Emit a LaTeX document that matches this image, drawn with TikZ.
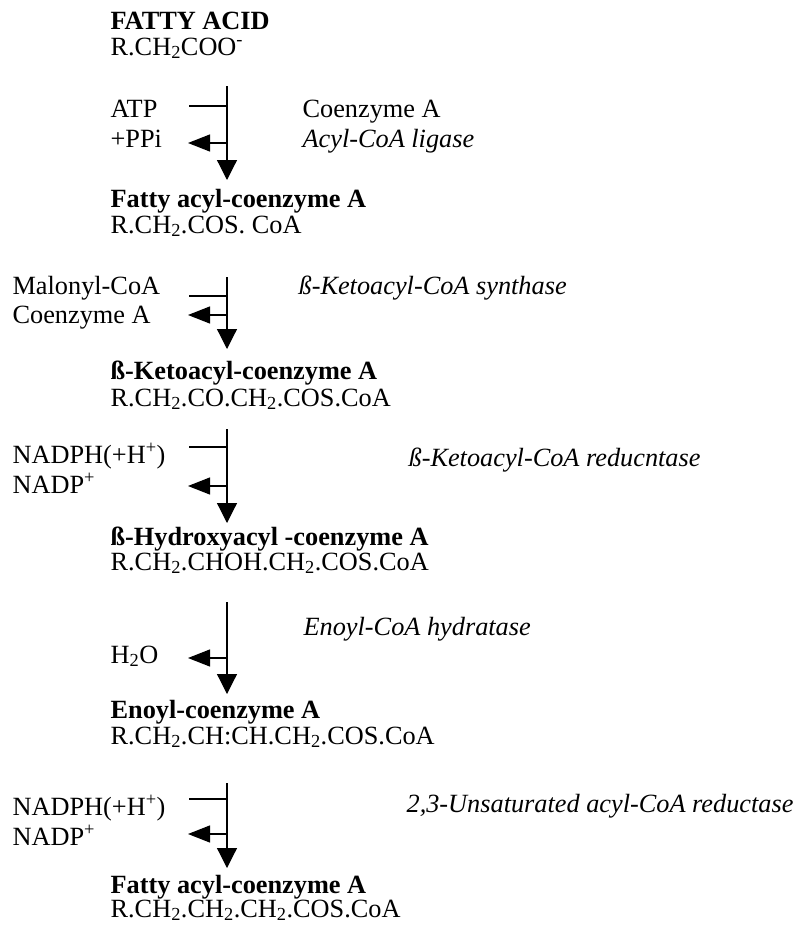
\documentclass[tikz,border=0pt]{standalone}
\usepackage{fontspec}
\setmainfont{Liberation Serif}
\usetikzlibrary{arrows.meta}

\begin{document}
\begin{tikzpicture}[x=1pt, y=-1pt, line width=1.2pt,
    txt/.style={anchor=base west, inner sep=0pt, font=\fontsize{26.3}{30}\selectfont},
    cmpd/.style={txt, font=\fontsize{26.3}{30}\selectfont\bfseries},
    enz/.style={txt, font=\fontsize{26.3}{30}\selectfont\itshape},
    flow/.style={-{Triangle[length=20pt, width=20pt]}},
    release/.style={-{Triangle[length=22pt, width=17pt]}}]
    \useasboundingbox (0,0) rectangle (795,926);
    % compounds
    \node[cmpd] (fa) at (110,29) {FATTY ACID};
    \node[txt] (faF) at (110,55) {R.CH\textsubscript{2}COO\textsuperscript{-}};
    \node[cmpd] (acyl) at (110,207) {Fatty acyl-coenzyme A};
    \node[txt] (acylF) at (110,233) {R.CH\textsubscript{2}.COS. CoA};
    \node[cmpd] (keto) at (110,379) {ß-Ketoacyl-coenzyme A};
    \node[txt] (ketoF) at (110,406) {R.CH\textsubscript{2}.CO.CH\textsubscript{2}.COS.CoA};
    \node[cmpd] (hydr) at (110,545) {ß-Hydroxyacyl -coenzyme A};
    \node[txt] (hydrF) at (110,570) {R.CH\textsubscript{2}.CHOH.CH\textsubscript{2}.COS.CoA};
    \node[cmpd] (enoyl) at (110,718) {Enoyl-coenzyme A};
    \node[txt] (enoylF) at (110,744) {R.CH\textsubscript{2}.CH:CH.CH\textsubscript{2}.COS.CoA};
    \node[cmpd] (acyl2) at (110,893) {Fatty acyl-coenzyme A};
    \node[txt] (acyl2F) at (110,917) {R.CH\textsubscript{2}.CH\textsubscript{2}.CH\textsubscript{2}.COS.CoA};

    % step 1
    \node[txt] (atp) at (110,117) {ATP};
    \node[txt] (ppi) at (110,147) {+PPi};
    \node[txt] (coa1) at (302,117) {Coenzyme A};
    \node[enz] (lig) at (302,147) {Acyl-CoA ligase};
    \coordinate (t1) at (227,86);
    \coordinate (e1) at (227,180);
    \coordinate (in1) at (189,106);
    \coordinate (out1) at (188,143);
    \draw[flow] (t1) -- (e1);
    \draw (in1) -- (in1 -| t1);
    \draw[release] (out1 -| t1) -- (out1);

    % step 2
    \node[txt] (mal) at (12,294) {Malonyl-CoA};
    \node[txt] (coa2) at (12,323) {Coenzyme A};
    \node[enz] (syn) at (298,294) {ß-Ketoacyl-CoA synthase};
    \coordinate (t2) at (227,277);
    \coordinate (e2) at (227,349);
    \coordinate (in2) at (189,296);
    \coordinate (out2) at (188,315);
    \draw[flow] (t2) -- (e2);
    \draw (in2) -- (in2 -| t2);
    \draw[release] (out2 -| t2) -- (out2);

    % step 3
    \node[txt] (nadph1) at (12,463) {NADPH(+H\textsuperscript{+})};
    \node[txt] (nadp1) at (12,493) {NADP\textsuperscript{+}};
    \node[enz] (red1) at (408,466) {ß-Ketoacyl-CoA reducntase};
    \coordinate (t3) at (227,429);
    \coordinate (e3) at (227,523);
    \coordinate (in3) at (189,447);
    \coordinate (out3) at (188,486);
    \draw[flow] (t3) -- (e3);
    \draw (in3) -- (in3 -| t3);
    \draw[release] (out3 -| t3) -- (out3);

    % step 4
    \node[txt] (water) at (110,663) {H\textsubscript{2}O};
    \node[enz] (hyd) at (303,635) {Enoyl-CoA hydratase};
    \coordinate (t4) at (227,602);
    \coordinate (e4) at (227,694);
    \coordinate (out4) at (188,658);
    \draw[flow] (t4) -- (e4);
    \draw[release] (out4 -| t4) -- (out4);

    % step 5
    \node[txt] (nadph2) at (12,815) {NADPH(+H\textsuperscript{+})};
    \node[txt] (nadp2) at (12,845) {NADP\textsuperscript{+}};
    \node[enz] (red2) at (406,812) {2,3-Unsaturated acyl-CoA reductase};
    \coordinate (t5) at (227,783);
    \coordinate (e5) at (227,868);
    \coordinate (in5) at (189,799);
    \coordinate (out5) at (188,834);
    \draw[flow] (t5) -- (e5);
    \draw (in5) -- (in5 -| t5);
    \draw[release] (out5 -| t5) -- (out5);
\end{tikzpicture}
\end{document}
